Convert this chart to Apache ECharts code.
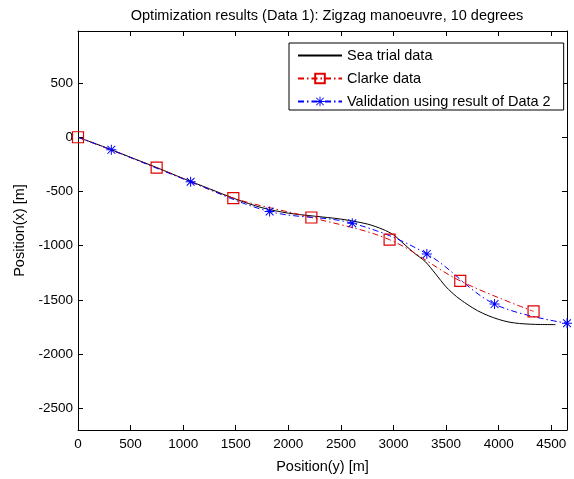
<!DOCTYPE html>
<html><head><meta charset="utf-8">
<script src="https://cdn.jsdelivr.net/npm/echarts@6/dist/echarts.min.js"></script>
<style>html,body{margin:0;padding:0;background:#fff}#c{width:574px;height:479px}</style>
</head><body><div id="c"></div>
<script>
const titleText = 'Optimization results (Data 1): Zigzag manoeuvre, 10 degrees';
const xTicks = [0, 500, 1000, 1500, 2000, 2500, 3000, 3500, 4000, 4500];
const yTicks = [-2500, -2000, -1500, -1000, -500, 0, 500];
const seaX = [0, 250, 500, 750, 1000, 1250, 1500, 1750, 2000, 2250, 2500, 2750, 2900, 3000, 3100, 3200, 3300, 3400, 3500, 3600, 3700, 3800, 3900, 4000, 4100, 4200, 4300, 4400, 4540];
const seaY = [0, -90, -185, -280, -380, -475, -570, -650, -700, -728, -755, -800, -850, -900, -985, -1070, -1145, -1260, -1380, -1470, -1540, -1600, -1645, -1680, -1705, -1718, -1724, -1727, -1728];
const clarkeX = [0, 748, 1477, 2219, 2963, 3635, 4332];
const clarkeY = [0, -281, -561, -740, -945, -1325, -1606];
const validX = [0, 317, 1071, 1822, 2608, 3317, 3961, 4650];
const validY = [0, -116, -411, -685, -793, -1076, -1539, -1715];

const star = 'path://M9,0h2v20h-2z M0,9h20v2h-20z M2.9,1.5L18.5,17.1L17.1,18.5L1.5,2.9z M17.1,1.5L18.5,2.9L2.9,18.5L1.5,17.1z';
const font = 'Liberation Sans';
const chart = echarts.init(document.getElementById('c'));
const zip = (a, b) => a.map((v, i) => [v, b[i]]);
const validData = zip(validX, validY).map((p, i) => i === 0 ? {value: p, symbol: 'none'} : p);
const plain = v => String(v);
const axisCommon = {
  axisLine: {onZero: false, lineStyle: {color: '#000', width: 1}},
  axisTick: {inside: true, length: 5, lineStyle: {color: '#000'}},
  splitLine: {show: false},
  axisLabel: {color: '#000', fontSize: 13.5, fontFamily: font, formatter: plain},
  nameTextStyle: {color: '#000', fontSize: 14.5, fontFamily: font}
};
chart.setOption({
  animation: false,
  backgroundColor: '#fff',
  title: {text: titleText, left: 322, top: 3, textAlign: 'center',
    textStyle: {fontSize: 14.5, fontWeight: 'normal', color: '#000', fontFamily: font}},
  grid: {left: 78, right: 7, top: 31, bottom: 46},
  legend: {
    orient: 'vertical', left: 289, top: 43, itemWidth: 44, itemHeight: 12, itemGap: 8,
    padding: [5, 13, 1, 8], borderColor: '#000', borderWidth: 1, backgroundColor: '#fff',
    textStyle: {fontSize: 14.5, color: '#000', fontFamily: font},
    data: [
      {name: 'Sea trial data', itemStyle: {opacity: 0}},
      'Clarke data',
      'Validation using result of Data 2'
    ]
  },
  xAxis: [
    Object.assign({}, axisCommon, {type: 'value', min: 0, max: 4650, name: 'Position(y) [m]',
      nameLocation: 'middle', nameGap: 29,
      axisTick: Object.assign({}, axisCommon.axisTick, {customValues: xTicks}),
      axisLabel: Object.assign({}, axisCommon.axisLabel, {customValues: xTicks, margin: 7})}),
    Object.assign({}, axisCommon, {type: 'value', min: 0, max: 4650, position: 'top',
      axisTick: Object.assign({}, axisCommon.axisTick, {customValues: xTicks}),
      axisLabel: {show: false}})
  ],
  yAxis: [
    Object.assign({}, axisCommon, {type: 'value', min: -2700, max: 980, name: 'Position(x) [m]',
      nameLocation: 'middle', nameGap: 42,
      axisTick: Object.assign({}, axisCommon.axisTick, {customValues: yTicks}),
      axisLabel: Object.assign({}, axisCommon.axisLabel, {customValues: yTicks, margin: 5})}),
    Object.assign({}, axisCommon, {type: 'value', min: -2700, max: 980, position: 'right',
      axisTick: Object.assign({}, axisCommon.axisTick, {customValues: yTicks}),
      axisLabel: {show: false}})
  ],
  series: [
    {name: 'Sea trial data', type: 'line', data: zip(seaX, seaY), showSymbol: false, symbol: 'none',
      smooth: 0.3, lineStyle: {color: '#000', width: 1}, itemStyle: {color: '#000'}},
    {name: 'Clarke data', type: 'line', data: zip(clarkeX, clarkeY), smooth: 0.35,
      symbol: 'rect', symbolSize: 11, showAllSymbol: true,
      lineStyle: {color: '#e00000', width: 1, type: [6, 3, 1.5, 3]},
      itemStyle: {color: 'rgba(255,255,255,0)', borderColor: '#e00000', borderWidth: 1.2}},
    {name: 'Validation using result of Data 2', type: 'line', data: validData, smooth: 0.35,
      symbol: star, symbolSize: 10, showAllSymbol: true,
      lineStyle: {color: '#0000ff', width: 1, type: [6, 3, 1.5, 3]},
      itemStyle: {color: '#0000ff'}}
  ]
});
</script></body></html>
